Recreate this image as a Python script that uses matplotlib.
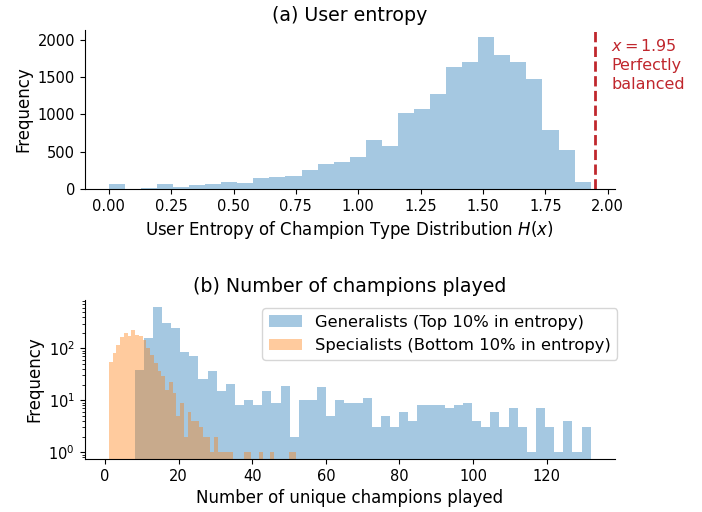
import numpy as np
import matplotlib.pyplot as plt

# (a) user entropy histogram: 30 bins between min and max entropy
entropy_min = 0.0
entropy_max = 1.932
entropy_counts = [63, 0, 10, 67, 27, 54, 67, 94, 85, 152,
                  161, 179, 250, 331, 358, 434, 657, 581, 1023, 1068,
                  1273, 1640, 1707, 2033, 1796, 1707, 1479, 791, 523, 98]
balanced_entropy = 1.95

# (b) number of unique champions played, 50 bins per group
gen_min, gen_max = 8, 132
gen_counts = [39, 158, 614, 309, 247, 85, 70, 26, 37, 15,
              21, 8, 10, 8, 15, 9, 19, 2, 10, 10,
              18, 5, 10, 9, 9, 11, 3, 5, 3, 6,
              4, 8, 8, 8, 7, 8, 9, 4, 3, 6,
              3, 7, 3, 1, 7, 3, 1, 4, 1, 3]
spec_min, spec_max = 1, 52
spec_counts = [55, 83, 118, 163, 198, 169, 222, 183, 169, 147,
               102, 76, 52, 37, 29, 16, 22, 14, 5, 9,
               2, 6, 4, 4, 3, 2, 2, 1, 2, 1,
               1, 1, 1, 0, 0, 0, 1, 1, 0, 0,
               1, 0, 0, 1, 0, 0, 0, 0, 1, 1]

line_red = "#c0272d"

fig = plt.figure(figsize=(7.02, 5.12), dpi=100)
ax1 = fig.add_axes([0.1207, 0.631, 0.755, 0.311])
ax2 = fig.add_axes([0.1207, 0.1035, 0.755, 0.3105])

# ── (a) ──────────────────────────────────────────────────────────────────
edges_a = np.linspace(entropy_min, entropy_max, len(entropy_counts) + 1)
ax1.hist(edges_a[:-1], bins=edges_a, weights=entropy_counts,
         color="tab:blue", alpha=0.4)
ax1.axvline(balanced_entropy, color=line_red, linestyle="--", linewidth=2)
ax1.text(balanced_entropy + 0.065, 2030, "$x = 1.95$\nPerfectly\nbalanced",
         color=line_red, fontsize=11.5, va="top", ha="left", linespacing=1.35)
ax1.set_xlim(-0.0966, 2.0286)
ax1.set_xticks([0.0, 0.25, 0.5, 0.75, 1.0, 1.25, 1.5, 1.75, 2.0])
ax1.set_xlabel("User Entropy of Champion Type Distribution $H(x)$", fontsize=12)
ax1.set_ylabel("Frequency", fontsize=12)
ax1.set_title("(a) User entropy", fontsize=13.7)

# ── (b) ──────────────────────────────────────────────────────────────────
edges_g = np.linspace(gen_min, gen_max, len(gen_counts) + 1)
edges_s = np.linspace(spec_min, spec_max, len(spec_counts) + 1)
ax2.hist(edges_g[:-1], bins=edges_g, weights=gen_counts, color="tab:blue",
         alpha=0.4, log=True, label="Generalists (Top 10% in entropy)")
ax2.hist(edges_s[:-1], bins=edges_s, weights=spec_counts, color="tab:orange",
         alpha=0.4, log=True, label="Specialists (Bottom 10% in entropy)")
ax2.set_xlim(-5.55, 138.55)
ax2.set_ylim(0.74, 850)
ax2.set_xlabel("Number of unique champions played", fontsize=12)
ax2.set_ylabel("Frequency", fontsize=12)
ax2.set_title("(b) Number of champions played", fontsize=13.7)
ax2.legend(loc="upper right", bbox_to_anchor=(1.02, 1.0), fontsize=11.8)

for ax in (ax1, ax2):
    ax.spines["top"].set_visible(False)
    ax.spines["right"].set_visible(False)
    ax.tick_params(labelsize=10.5)

fig.savefig("out.png", dpi=100)
